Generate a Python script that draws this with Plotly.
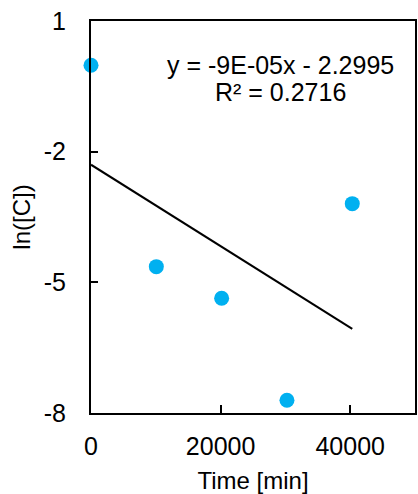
import numpy as np
import plotly.graph_objects as go

# Sampling times (one week apart) and log concentrations
time_min = [0, 10080, 20160, 30240, 40320]
ln_c = [-0.015, -4.64, -5.366, -7.706, -3.194]

x_ticks = [0, 20000, 40000]
x_tick_labels = ["0", "20000", "40000"]
y_ticks = [1, -2, -5, -8]
y_tick_labels = ["1", "-2", "-5", "-8"]

eq_text = "y = -9E-05x - 2.2995"
r2_text = "R² = 0.2716"

FONT = "Liberation Sans, Arial, sans-serif"
W, H = 418, 494
ML, MR, MT, MB = 91, 1, 21, 80

# Linear trendline from least squares
slope, intercept = np.polyfit(time_min, ln_c, 1)
x_fit = np.array([0, max(time_min)])
y_fit = slope * x_fit + intercept

fig = go.Figure()
fig.add_trace(go.Scatter(
    x=x_fit, y=y_fit, mode="lines",
    line=dict(color="black", width=2),
    showlegend=False, hoverinfo="skip",
))
fig.add_trace(go.Scatter(
    x=time_min, y=ln_c, mode="markers",
    marker=dict(color="#00B0F0", size=15),
    showlegend=False, cliponaxis=False,
))

def px_to_paper_x(px):
    return (px - ML) / (W - ML - MR)

def px_to_paper_y(py):
    return (H - MB - py) / (H - MT - MB)

fig.add_annotation(
    text=eq_text, xref="paper", yref="paper",
    x=px_to_paper_x(282), y=px_to_paper_y(65),
    xanchor="center", yanchor="middle", showarrow=False,
    font=dict(family=FONT, size=25, color="black"),
)
fig.add_annotation(
    text=r2_text, xref="paper", yref="paper",
    x=px_to_paper_x(282), y=px_to_paper_y(92),
    xanchor="center", yanchor="middle", showarrow=False,
    font=dict(family=FONT, size=25, color="black"),
)

axis_common = dict(
    showline=True, linecolor="black", linewidth=2, mirror=True,
    ticks="inside", tickcolor="black", tickwidth=1.5,
    showgrid=False, zeroline=False,
    tickfont=dict(family=FONT, size=25, color="black"),
)

fig.update_xaxes(
    range=[0, 50000], tickvals=x_ticks, ticktext=x_tick_labels, ticklen=8,
    title=dict(text="Time [min]", font=dict(family=FONT, size=24, color="black"), standoff=16),
    ticklabelstandoff=10,
    **axis_common,
)
fig.update_yaxes(
    range=[-8, 1], tickvals=y_ticks, ticktext=y_tick_labels, ticklen=7,
    title=dict(text="ln([C])", font=dict(family=FONT, size=24, color="black"), standoff=6),
    ticklabelstandoff=18,
    **axis_common,
)

fig.update_layout(
    width=W, height=H,
    margin=dict(l=ML, r=MR, t=MT, b=MB),
    paper_bgcolor="white", plot_bgcolor="white",
    font=dict(family=FONT, color="black"),
)

fig.write_html("out.html")
